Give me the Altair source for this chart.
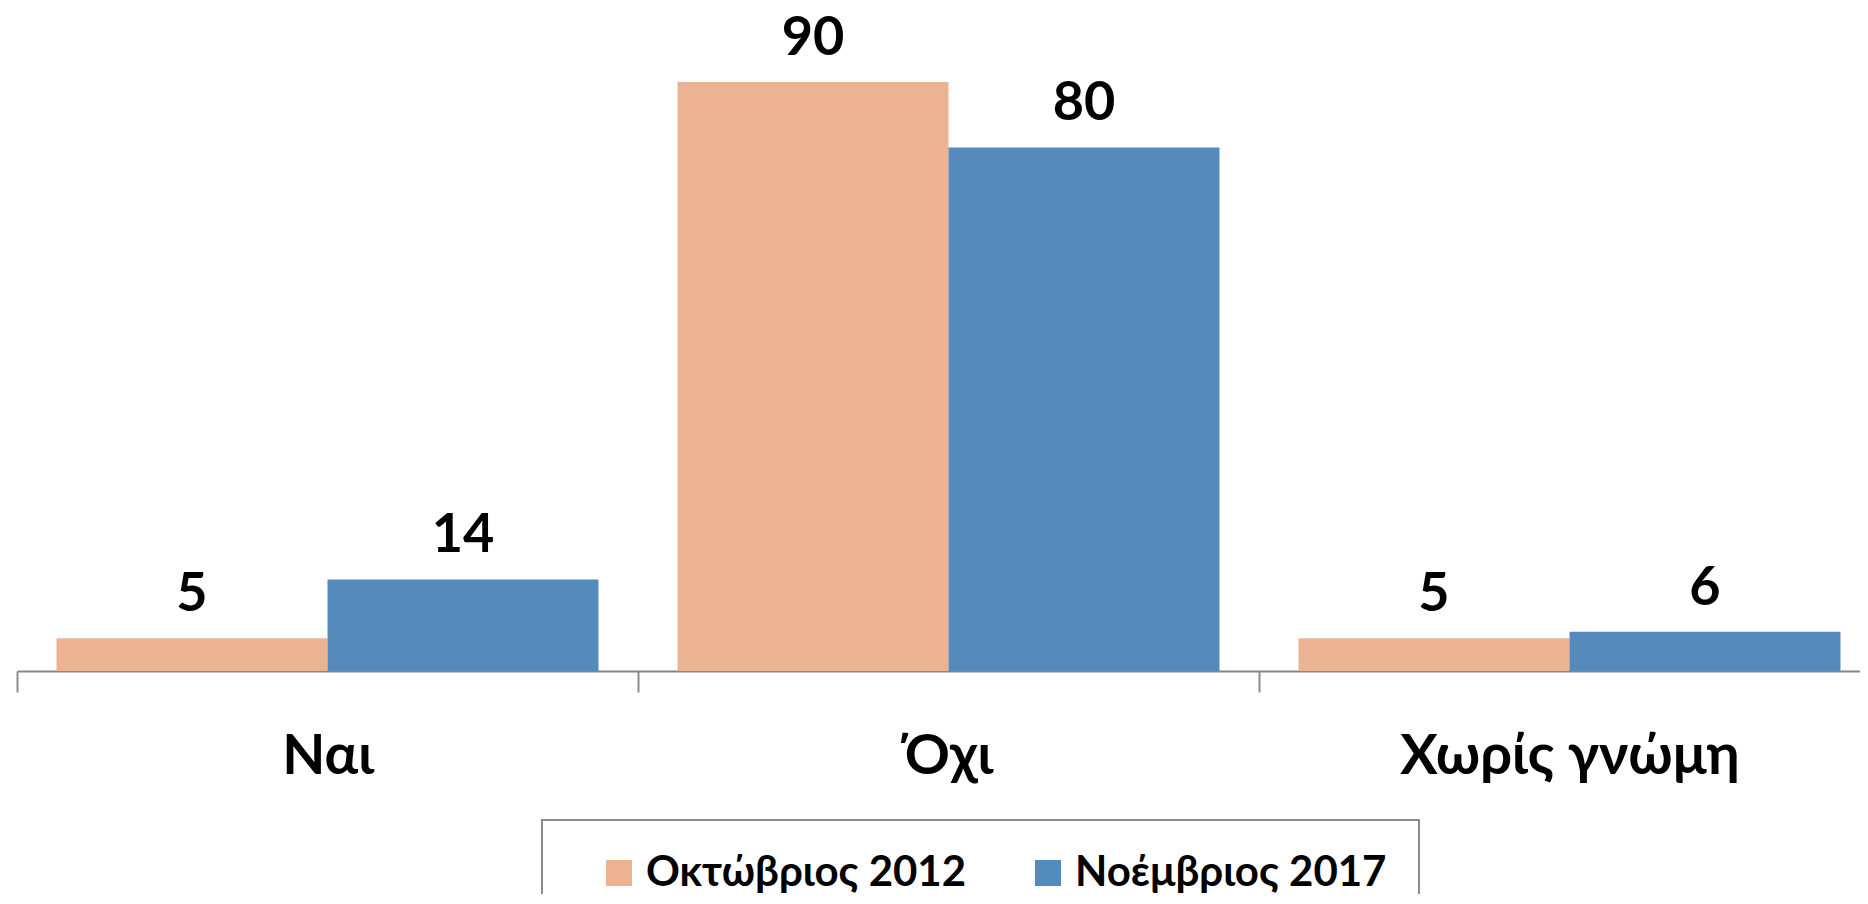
import altair as alt
import pandas as pd

categories = ["Ναι", "Όχι", "Χωρίς γνώμη"]
series = ["Οκτώβριος 2012", "Νοέμβριος 2017"]
values_2012 = [5, 90, 5]
values_2017 = [14, 80, 6]
colors = ["#ECB393", "#558BBB"]

rows = []
for c, a, b in zip(categories, values_2012, values_2017):
    rows.append({"cat": c, "series": series[0], "value": a})
    rows.append({"cat": c, "series": series[1], "value": b})
df = pd.DataFrame(rows)

FONT = "Lato"

x_enc = alt.X(
    "cat:N",
    sort=categories,
    scale=alt.Scale(range=[0, 1863], paddingInner=0, paddingOuter=0),
    axis=alt.Axis(
        title=None,
        labelAngle=0,
        labelFont=FONT,
        labelFontSize=56,
        labelFontWeight="bold",
        labelColor="#000000",
        labelBaseline="alphabetic",
        labelPadding=81,
        labelLimit=1000,
        tickBand="extent",
        tickSize=21,
        tickWidth=2,
        tickColor="#8C8C8C",
        domainColor="#868686",
        domainWidth=2,
        grid=False,
    ),
)
xoff_enc = alt.XOffset(
    "series:N",
    sort=series,
    scale=alt.Scale(paddingInner=0, paddingOuter=0.1458),
)
y_enc = alt.Y("value:Q", scale=alt.Scale(domain=[0, 90]), axis=None)

base = alt.Chart(df).encode(x=x_enc, xOffset=xoff_enc, y=y_enc)

bars = base.mark_bar(cornerRadius=0).encode(
    color=alt.Color(
        "series:N",
        sort=series,
        scale=alt.Scale(domain=series, range=colors),
        legend=alt.Legend(
            title=None,
            orient="none",
            legendX=525,
            legendY=738,
            direction="horizontal",
            symbolType="square",
            symbolSize=676,
            symbolStrokeWidth=0,
            symbolOpacity=1,
            symbolOffset=24,
            labelFont=FONT,
            labelFontSize=42,
            labelFontWeight="bold",
            labelColor="#000000",
            labelOffset=6,
            labelLimit=1000,
            columnPadding=36,
            gridAlign="all",
            padding=32,
            strokeColor="#8C8C8C",
        ),
    )
)

labels = base.mark_text(
    baseline="alphabetic",
    dy=-27,
    font=FONT,
    fontSize=54,
    fontWeight="bold",
    color="#000000",
).encode(text=alt.Text("value:Q"))

chart = (
    alt.layer(bars, labels)
    .properties(
        width=1843,
        height=589,
        autosize=alt.AutoSizeParams(type="none"),
        padding={"left": 9, "top": 74, "right": 0, "bottom": 223},
        background="#FFFFFF",
    )
    .configure_view(stroke=None)
    .configure_legend(strokeWidth=2)
)

chart.save("out.html", embed_options={"renderer": "svg", "actions": False})
